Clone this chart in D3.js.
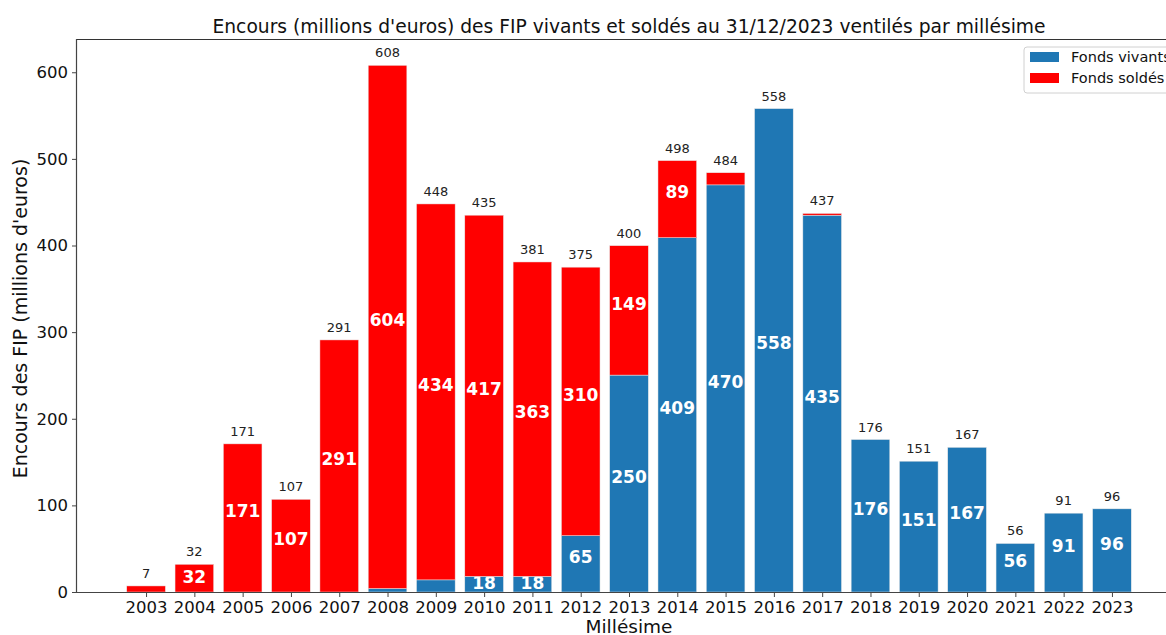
<!DOCTYPE html>
<html>
<head>
<meta charset="utf-8">
<script src="https://cdn.jsdelivr.net/npm/d3@7"></script>
<style>
  body { margin: 0; background: #fff; }
  svg { font-family: "DejaVu Sans", sans-serif; }
</style>
</head>
<body>
<script>
// Donnees
var millesimes = [2003, 2004, 2005, 2006, 2007, 2008, 2009, 2010, 2011, 2012, 2013,
                  2014, 2015, 2016, 2017, 2018, 2019, 2020, 2021, 2022, 2023];
var fondsVivants = [0, 0, 0, 0, 0, 4, 14, 18, 18, 65, 250.4,
                    409, 470, 558, 435, 176, 151, 167, 56, 91, 96];
var fondsSoldes = [7, 32, 171, 107, 291, 604, 434, 417, 363, 310, 149.4,
                   89, 14, 0, 2, 0, 0, 0, 0, 0, 0];
var yTicks = [0, 100, 200, 300, 400, 500, 600];
var series = ["Fonds vivants", "Fonds soldés"];
var couleurs = ["#1f77b4", "#ff0000"];

var totaux = millesimes.map(function(m, i) { return fondsVivants[i] + fondsSoldes[i]; });

// Taille du dessin (l'axe droit depasse la fenetre, comme sur l'original)
var W = 1166, H = 635;
var margin = {top: 39, left: 77, bottom: 43};
var plotRight = 1181;

var svg = d3.select("body").append("svg")
  .attr("width", W)
  .attr("height", H);

// Echelles
var x = d3.scaleLinear()
  .domain([d3.min(millesimes) - 1.43, d3.max(millesimes) + 1.43])
  .range([margin.left, plotRight]);
var step = x(2004) - x(2003);
var bw = step * 0.8;

var y = d3.scaleLinear()
  .domain([0, d3.max(totaux) * 1.05])
  .range([H - margin.bottom, margin.top]);

// Titre
svg.append("text")
  .attr("x", (margin.left + plotRight) / 2)
  .attr("y", 33)
  .attr("text-anchor", "middle")
  .style("font-size", "18.7px")
  .attr("fill", "#111")
  .text("Encours (millions d'euros) des FIP vivants et soldés au 31/12/2023 ventilés par millésime");

// Barres empilees : vivants en bas, soldes au dessus
var g = svg.append("g");

var couches = [
  {nom: series[0], vals: fondsVivants, base: millesimes.map(function() { return 0; }), col: couleurs[0]},
  {nom: series[1], vals: fondsSoldes, base: fondsVivants, col: couleurs[1]}
];

couches.forEach(function(c) {
  g.selectAll(".bar-" + c.col.slice(1))
    .data(millesimes)
    .enter().append("rect")
    .attr("x", function(d) { return x(d) - bw / 2; })
    .attr("width", bw)
    .attr("y", function(d, i) { return y(c.base[i] + c.vals[i]); })
    .attr("height", function(d, i) { return y(c.base[i]) - y(c.base[i] + c.vals[i]); })
    .attr("fill", c.col)
    .attr("stroke", "#e8e8e8")
    .attr("stroke-width", function(d, i) { return c.vals[i] > 0 ? 0.5 : 0; });

  // etiquettes blanches dans les segments (un peu au dessus du milieu si le segment est grand)
  g.selectAll(".lab-" + c.col.slice(1))
    .data(millesimes)
    .enter().filter(function(d, i) { return c.vals[i] > 15; })
    .append("text")
    .attr("x", function(d) { return x(d); })
    .attr("y", function(d) {
      var i = millesimes.indexOf(d);
      var haut = y(c.base[i]) - y(c.base[i] + c.vals[i]);
      var milieu = y(c.base[i] + c.vals[i] / 2);
      return haut > 40 ? milieu - 7 : milieu - 1;
    })
    .attr("dy", "0.36em")
    .attr("text-anchor", "middle")
    .attr("fill", "#fff")
    .style("font-size", "17px")
    .style("font-weight", "bold")
    .text(function(d) { return Math.round(c.vals[millesimes.indexOf(d)]); });
});

// totaux au dessus des barres
g.selectAll(".total")
  .data(millesimes)
  .enter().append("text")
  .attr("x", function(d) { return x(d); })
  .attr("y", function(d, i) { return y(totaux[i]) - 8; })
  .attr("text-anchor", "middle")
  .attr("fill", "#222")
  .style("font-size", "13px")
  .text(function(d, i) { return Math.round(totaux[i]); });

// Axes
var xAxis = d3.axisBottom(x)
  .tickValues(millesimes)
  .tickFormat(d3.format("d"))
  .tickSize(5)
  .tickPadding(4);
var yAxis = d3.axisLeft(y)
  .tickValues(yTicks)
  .tickSize(5)
  .tickPadding(4);

var gx = svg.append("g")
  .attr("transform", "translate(0," + (H - margin.bottom) + ")")
  .call(xAxis);
var gy = svg.append("g")
  .attr("transform", "translate(" + margin.left + ",0)")
  .call(yAxis);

[gx, gy].forEach(function(a) {
  a.select(".domain").attr("stroke", "#444").attr("stroke-width", 1.2);
  a.selectAll(".tick line").attr("stroke", "#444");
  a.selectAll(".tick text").attr("fill", "#111").style("font-size", "16.5px").style("font-family", "DejaVu Sans, sans-serif");
});
gx.select(".domain").attr("d", "M" + margin.left + ",0.5H" + plotRight);
gy.select(".domain").attr("d", "M-0.5," + y(0) + "V" + margin.top);

// bord haut et droit
svg.append("line")
  .attr("x1", margin.left).attr("x2", plotRight)
  .attr("y1", margin.top + 0.5).attr("y2", margin.top + 0.5)
  .attr("stroke", "#333").attr("stroke-width", 1.2);
svg.append("line")
  .attr("x1", plotRight).attr("x2", plotRight)
  .attr("y1", margin.top).attr("y2", y(0))
  .attr("stroke", "#333").attr("stroke-width", 1.2);

// Titres des axes
svg.append("text")
  .attr("x", (margin.left + plotRight) / 2)
  .attr("y", 633)
  .attr("text-anchor", "middle")
  .attr("fill", "#111")
  .style("font-size", "18.5px")
  .text("Millésime");

svg.append("text")
  .attr("transform", "translate(27," + ((margin.top + y(0)) / 2 + 3) + ") rotate(-90)")
  .attr("text-anchor", "middle")
  .attr("fill", "#111")
  .style("font-size", "19px")
  .text("Encours des FIP (millions d'euros)");

// Legende
var leg = svg.append("g").attr("transform", "translate(1024,47)");
leg.append("rect")
  .attr("width", 170).attr("height", 46)
  .attr("rx", 3)
  .attr("fill", "#fff").attr("fill-opacity", 0.8)
  .attr("stroke", "#d0d0d0");
series.forEach(function(s, i) {
  leg.append("rect")
    .attr("x", 6).attr("y", 5 + i * 21)
    .attr("width", 29).attr("height", 10)
    .attr("fill", couleurs[i]);
  leg.append("text")
    .attr("x", 47).attr("y", 15 + i * 21)
    .attr("fill", "#111")
    .style("font-size", "14.5px")
    .text(s);
});
</script>
</body>
</html>
